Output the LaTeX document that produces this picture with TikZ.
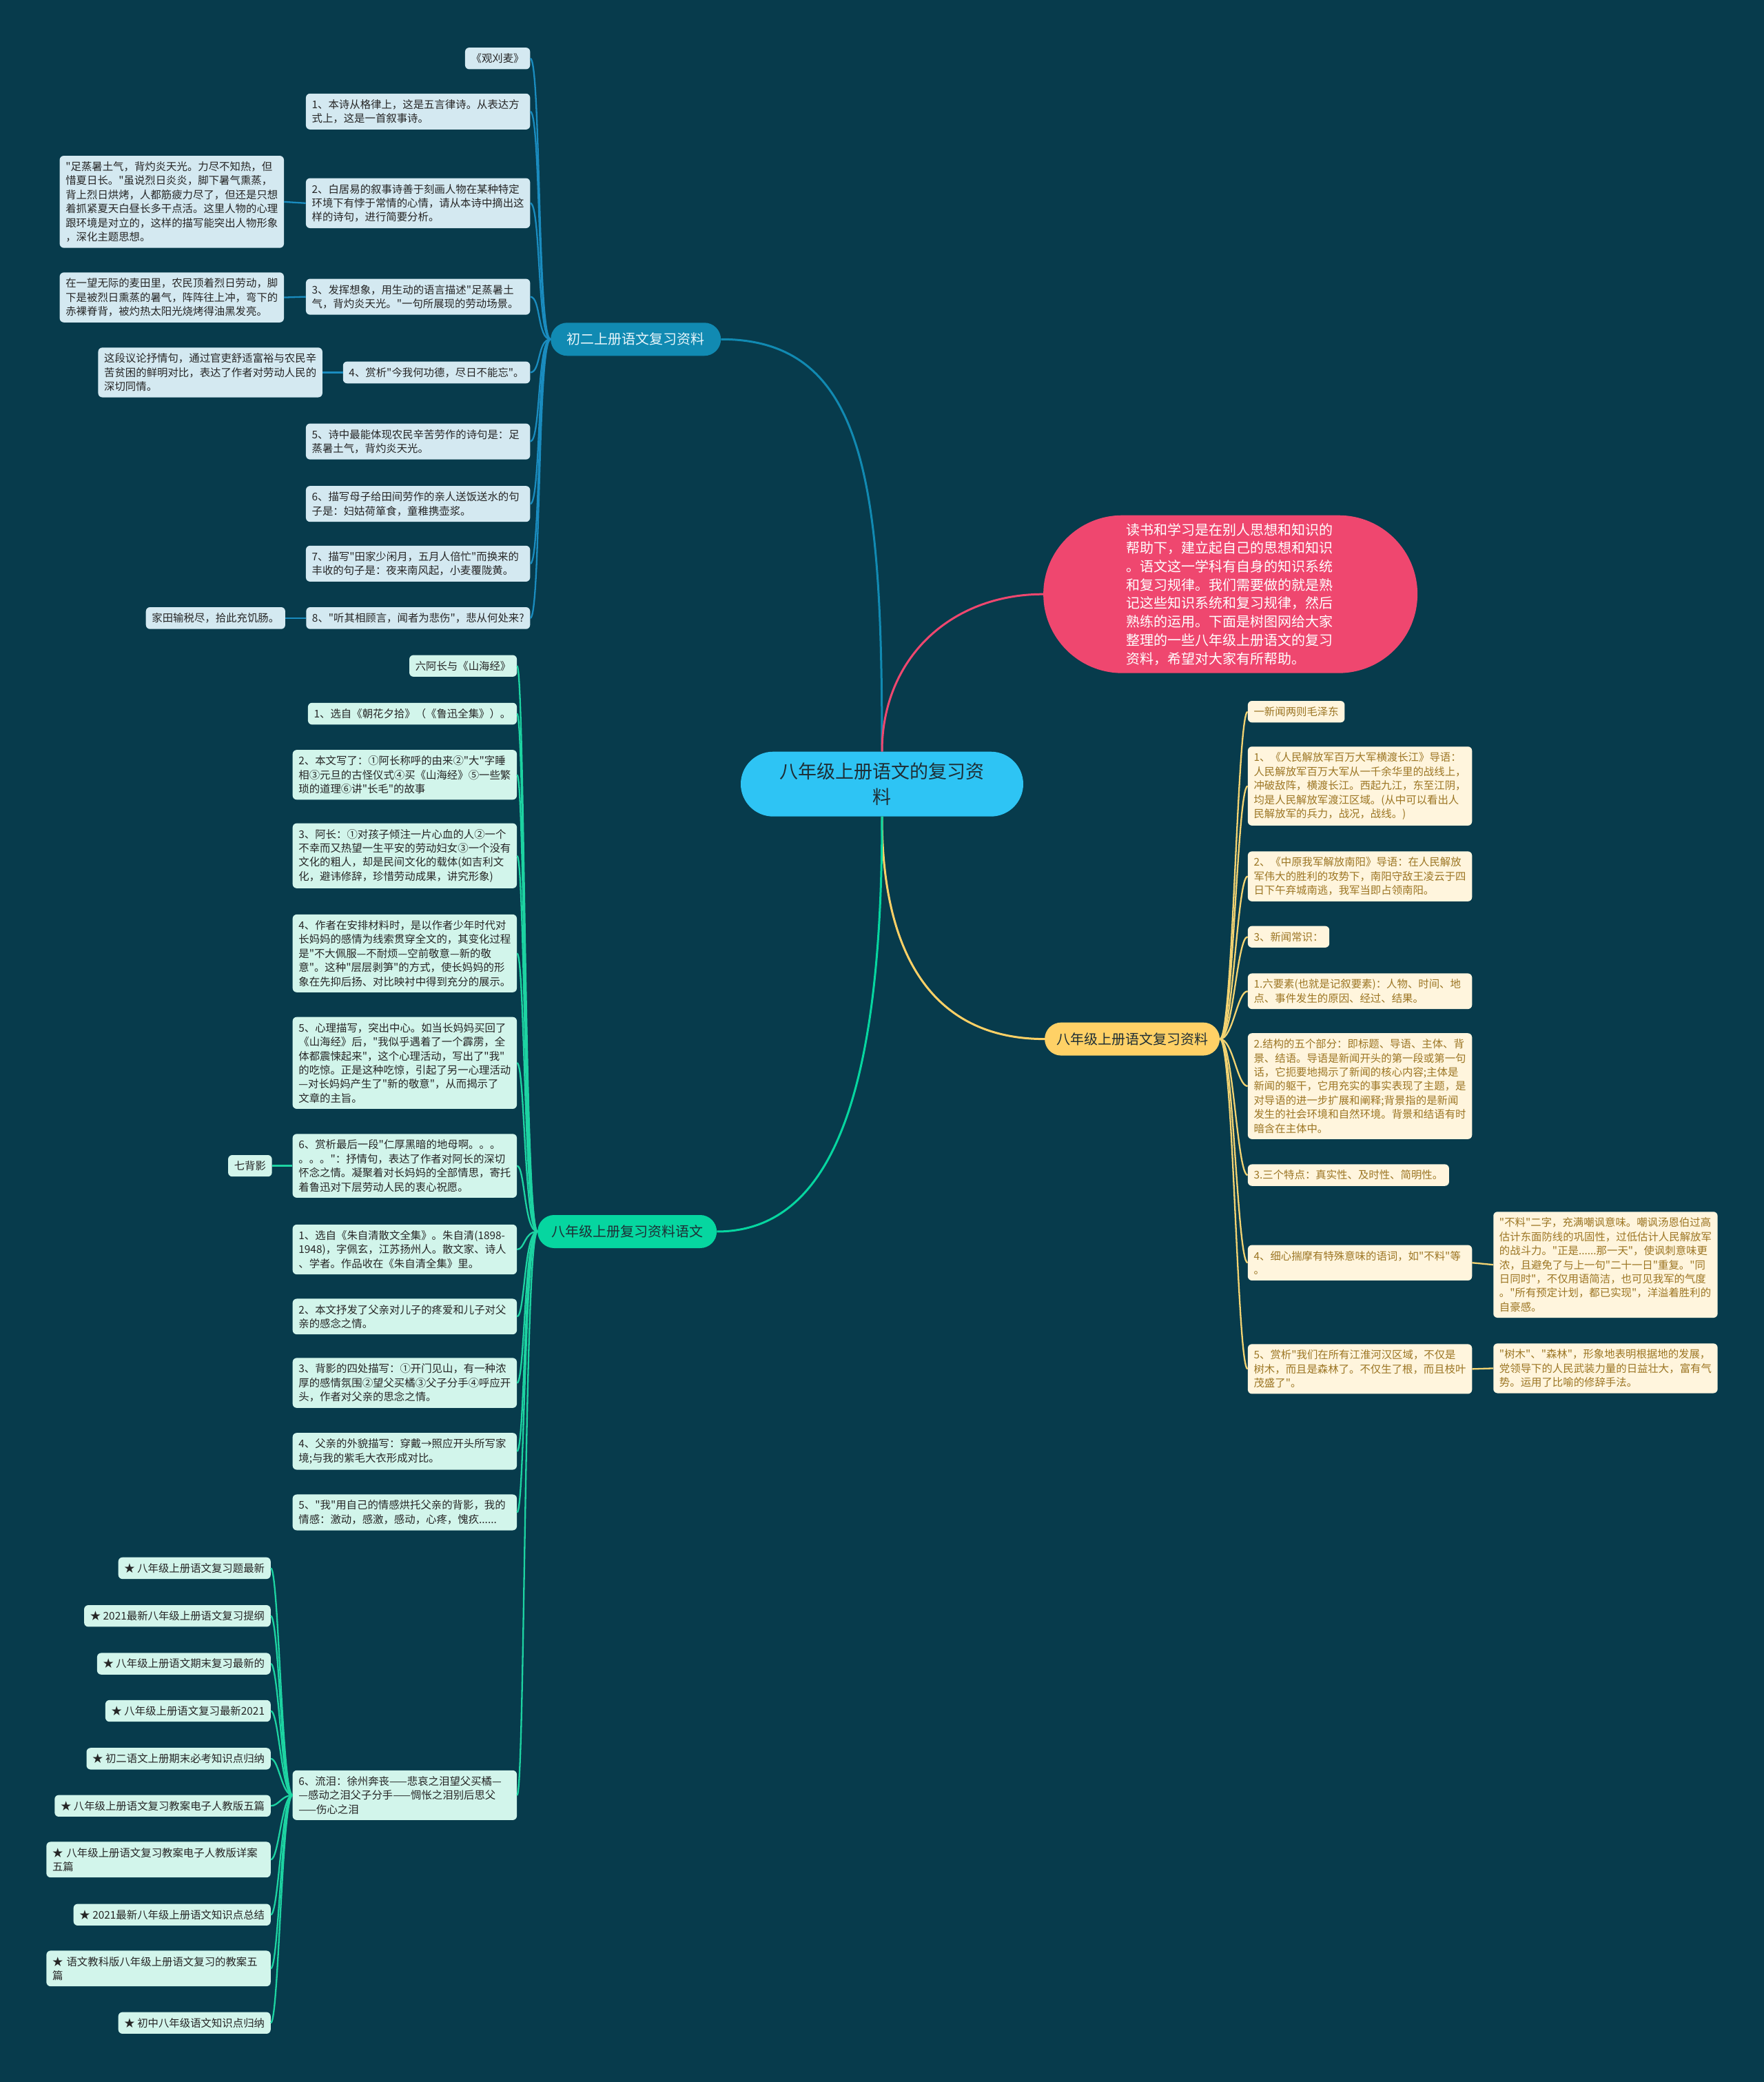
\documentclass[tikz,border=0pt]{standalone}
\usepackage{fontspec}
\newfontfamily\cjk{Noto Sans CJK SC}
\usetikzlibrary{shapes.misc}
\definecolor{bg}{HTML}{073B4C}
\definecolor{cblue}{HTML}{118AB2}
\definecolor{cpink}{HTML}{EF476F}
\definecolor{cyel}{HTML}{FFD166}
\definecolor{cgreen}{HTML}{06D6A0}
\definecolor{croot}{HTML}{2EC4F4}
\definecolor{fblue}{HTML}{D4E9F1}
\definecolor{fgreen}{HTML}{D2F5EB}
\definecolor{fyel}{HTML}{FFF5DD}
\definecolor{tdark}{HTML}{262626}
\definecolor{tgold}{HTML}{9C7624}
\definecolor{lyel}{HTML}{F2D372}
\definecolor{lgreen}{HTML}{1DD3A2}
\definecolor{lblue}{HTML}{1A8CBF}
\definecolor{roottext}{HTML}{1E2E35}
\definecolor{bltext}{HTML}{E8F6FB}
\begin{document}
\begin{tikzpicture}[x=1.92626pt,y=-1.92666pt,
  leaf/.style={rectangle,rounded corners=6pt,inner xsep=8.7pt,inner ysep=8.5pt,
    font=\cjk\fontsize{15.4}{20.4}\selectfont,align=left},
  bleaf/.style={leaf,fill=fblue,text=tdark},
  gleaf/.style={leaf,fill=fgreen,text=tdark},
  yleaf/.style={leaf,fill=fyel,text=tgold},
  wide/.style={text width=308pt},
  lbl/.style={rounded rectangle,minimum height=48pt,inner xsep=0pt,inner ysep=0pt,
    font=\cjk\fontsize{20}{24}\selectfont},
  cb/.style={draw=lblue,line width=2.3pt},
  cg/.style={draw=lgreen,line width=2.3pt},
  cy/.style={draw=lyel,line width=2.3pt},
  mainline/.style={line width=3pt}]
\fill[bg] (0,0) rectangle (1329,1568);
\useasboundingbox (0,0) rectangle (1329,1568);

% root and main branches
\node[rounded rectangle,fill=croot,text=roottext,minimum width=410pt,minimum height=94pt,
  align=center,font=\cjk\fontsize{27}{37}\selectfont,inner sep=0pt] (root) at (664.5,590.5)
  {八年级上册语文的复习资\\料};
\node[rounded rectangle,fill=cpink,text=white,minimum width=543pt,minimum height=229pt,
  text width=302pt,align=left,font=\cjk\fontsize{20}{26.7}\selectfont,inner sep=0pt] (pink) at (927,447.5)
  {读书和学习是在别人思想和知识的\\帮助下，建立起自己的思想和知识\\。语文这一学科有自身的知识系统\\和复习规律。我们需要做的就是熟\\记这些知识系统和复习规律，然后\\熟练的运用。下面是树图网给大家\\整理的一些八年级上册语文的复习\\资料，希望对大家有所帮助。};
\node[lbl,fill=cblue,text=bltext,minimum width=247pt] (bl) at (479,255.5) {初二上册语文复习资料};
\node[lbl,fill=cyel,text=roottext,minimum width=254pt] (yl) at (853,782.5) {八年级上册语文复习资料};
\node[lbl,fill=cgreen,text=roottext,minimum width=260pt] (gl) at (472.5,927.5) {八年级上册复习资料语文};

\draw[mainline,draw=cblue] (root.north) .. controls +(0,-200) and +(110,0) .. (bl.east);
\draw[mainline,draw=cpink] (root.north) .. controls +(0,-70) and +(-70,0) .. (pink.west);
\draw[mainline,draw=cyel] (root.south) .. controls +(0,110) and +(-80,0) .. (yl.west);
\draw[mainline,draw=cgreen] (root.south) .. controls +(0,200) and +(90,0) .. (gl.east);

% blue branch
\node[bleaf,anchor=east] (b1) at (399.5,44) {《观刈麦》};
\node[bleaf,wide,anchor=east] (b2) at (399.5,84) {1、本诗从格律上，这是五言律诗。从表达方\\式上，这是一首叙事诗。};
\node[bleaf,wide,anchor=east] (b3) at (399.5,153) {2、白居易的叙事诗善于刻画人物在某种特定\\环境下有悖于常情的心情，请从本诗中摘出这\\样的诗句，进行简要分析。};
\node[bleaf,wide,anchor=east] (b3a) at (214,152) {"足蒸暑土气，背灼炎天光。力尽不知热，但\\惜夏日长。"虽说烈日炎炎，脚下暑气熏蒸，\\背上烈日烘烤，人都筋疲力尽了，但还是只想\\着抓紧夏天白昼长多干点活。这里人物的心理\\跟环境是对立的，这样的描写能突出人物形象\\，深化主题思想。};
\node[bleaf,wide,anchor=east] (b4) at (399.5,223.5) {3、发挥想象，用生动的语言描述"足蒸暑土\\气，背灼炎天光。"一句所展现的劳动场景。};
\node[bleaf,wide,anchor=east] (b4a) at (214,224) {在一望无际的麦田里，农民顶着烈日劳动，脚\\下是被烈日熏蒸的暑气，阵阵往上冲，弯下的\\赤裸脊背，被灼热太阳光烧烤得油黑发亮。};
\node[bleaf,anchor=east] (b5) at (399.5,280.5) {4、赏析"今我何功德，尽日不能忘"。};
\node[bleaf,wide,anchor=east] (b5a) at (243,280.5) {这段议论抒情句，通过官吏舒适富裕与农民辛\\苦贫困的鲜明对比，表达了作者对劳动人民的\\深切同情。};
\node[bleaf,wide,anchor=east] (b6) at (399.5,332.5) {5、诗中最能体现农民辛苦劳作的诗句是：足\\蒸暑土气，背灼炎天光。};
\node[bleaf,wide,anchor=east] (b7) at (399.5,379.5) {6、描写母子给田间劳作的亲人送饭送水的句\\子是：妇姑荷箪食，童稚携壶浆。};
\node[bleaf,wide,anchor=east] (b8) at (399.5,424.5) {7、描写"田家少闲月，五月人倍忙"而换来的\\丰收的句子是：夜来南风起，小麦覆陇黄。};
\node[bleaf,anchor=east] (b9) at (399.5,465.5) {8、"听其相顾言，闻者为悲伤"，悲从何处来?};
\node[bleaf,anchor=east] (b9a) at (215,465.5) {家田输税尽，拾此充饥肠。};
\foreach \c in {b1,b2,b3,b4,b5,b6,b7,b8,b9}
  \draw[cb] (bl.west) .. controls +(-10,0) and +(8,0) .. (\c.east);
\draw[cb] (b3.west) -- (b3a.east);
\draw[cb] (b4.west) -- (b4a.east);
\draw[cb] (b5.west) -- (b5a.east);
\draw[cb] (b9.west) -- (b9a.east);

% yellow branch
\node[yleaf,anchor=west] (y1) at (940,536) {一新闻两则毛泽东};
\node[yleaf,wide,anchor=west] (y2) at (940,592) {1、《人民解放军百万大军横渡长江》导语：\\人民解放军百万大军从一千余华里的战线上，\\冲破敌阵，横渡长江。西起九江，东至江阴，\\均是人民解放军渡江区域。(从中可以看出人\\民解放军的兵力，战况，战线。)};
\node[yleaf,wide,anchor=west] (y3) at (940,660) {2、《中原我军解放南阳》导语：在人民解放\\军伟大的胜利的攻势下，南阳守敌王凌云于四\\日下午弃城南逃，我军当即占领南阳。};
\node[yleaf,anchor=west] (y4) at (940,705.5) {3、新闻常识：};
\node[yleaf,wide,anchor=west] (y5) at (940,746.5) {1.六要素(也就是记叙要素)：人物、时间、地\\点、事件发生的原因、经过、结果。};
\node[yleaf,wide,anchor=west] (y6) at (940,818) {2.结构的五个部分：即标题、导语、主体、背\\景、结语。导语是新闻开头的第一段或第一句\\话，它扼要地揭示了新闻的核心内容;主体是\\新闻的躯干，它用充实的事实表现了主题，是\\对导语的进一步扩展和阐释;背景指的是新闻\\发生的社会环境和自然环境。背景和结语有时\\暗含在主体中。};
\node[yleaf,anchor=west] (y7) at (940,885) {3.三个特点：真实性、及时性、简明性。};
\node[yleaf,wide,anchor=west] (y8) at (940,951) {4、细心揣摩有特殊意味的语词，如"不料"等\\。};
\node[yleaf,wide,anchor=west] (y8a) at (1125,952.5) {"不料"二字，充满嘲讽意味。嘲讽汤恩伯过高\\估计东面防线的巩固性，过低估计人民解放军\\的战斗力。"正是......那一天"，使讽刺意味更\\浓，且避免了与上一句"二十一日"重复。"同\\日同时"，不仅用语简洁，也可见我军的气度\\。"所有预定计划，都已实现"，洋溢着胜利的\\自豪感。};
\node[yleaf,wide,anchor=west] (y9) at (940,1031) {5、赏析"我们在所有江淮河汉区域，不仅是\\树木，而且是森林了。不仅生了根，而且枝叶\\茂盛了"。};
\node[yleaf,wide,anchor=west] (y9a) at (1125,1030.5) {"树木"、"森林"，形象地表明根据地的发展，\\党领导下的人民武装力量的日益壮大，富有气\\势。运用了比喻的修辞手法。};
\foreach \c in {y1,y2,y3,y4,y5,y6,y7,y8,y9}
  \draw[cy] (yl.east) .. controls +(10,0) and +(-8,0) .. (\c.west);
\draw[cy] (y8.east) -- (y8a.west);
\draw[cy] (y9.east) -- (y9a.west);

% green branch
\node[gleaf,anchor=east] (g1) at (389.5,501.5) {六阿长与《山海经》};
\node[gleaf,anchor=east] (g2) at (389.5,537.5) {1、选自《朝花夕拾》（《鲁迅全集》）。};
\node[gleaf,wide,anchor=east] (g3) at (389.5,583.5) {2、本文写了：①阿长称呼的由来②"大"字睡\\相③元旦的古怪仪式④买《山海经》⑤一些繁\\琐的道理⑥讲"长毛"的故事};
\node[gleaf,wide,anchor=east] (g4) at (389.5,644.5) {3、阿长：①对孩子倾注一片心血的人②一个\\不幸而又热望一生平安的劳动妇女③一个没有\\文化的粗人，却是民间文化的载体(如吉利文\\化，避讳修辞，珍惜劳动成果，讲究形象)};
\node[gleaf,wide,anchor=east] (g5) at (389.5,718) {4、作者在安排材料时，是以作者少年时代对\\长妈妈的感情为线索贯穿全文的，其变化过程\\是"不大佩服—不耐烦—空前敬意—新的敬\\意"。这种"层层剥笋"的方式，使长妈妈的形\\象在先抑后扬、对比映衬中得到充分的展示。};
\node[gleaf,wide,anchor=east] (g6) at (389.5,800.5) {5、心理描写，突出中心。如当长妈妈买回了\\《山海经》后，"我似乎遇着了一个霹雳，全\\体都震悚起来"，这个心理活动，写出了"我"\\的吃惊。正是这种吃惊，引起了另一心理活动\\—对长妈妈产生了"新的敬意"，从而揭示了\\文章的主旨。};
\node[gleaf,wide,anchor=east] (g7) at (389.5,878) {6、赏析最后一段"仁厚黑暗的地母啊。。。\\。。。"：抒情句，表达了作者对阿长的深切\\怀念之情。凝聚着对长妈妈的全部情思，寄托\\着鲁迅对下层劳动人民的衷心祝愿。};
\node[gleaf,anchor=east] (g7a) at (205,878) {七背影};
\node[gleaf,wide,anchor=east] (g8) at (389.5,941) {1、选自《朱自清散文全集》。朱自清(1898-\\1948)，字佩玄，江苏扬州人。散文家、诗人\\、学者。作品收在《朱自清全集》里。};
\node[gleaf,wide,anchor=east] (g9) at (389.5,991.5) {2、本文抒发了父亲对儿子的疼爱和儿子对父\\亲的感念之情。};
\node[gleaf,wide,anchor=east] (g10) at (389.5,1041.5) {3、背影的四处描写：①开门见山，有一种浓\\厚的感情氛围②望父买橘③父子分手④呼应开\\头，作者对父亲的思念之情。};
\node[gleaf,wide,anchor=east] (g11) at (389.5,1093) {4、父亲的外貌描写：穿戴→照应开头所写家\\境;与我的紫毛大衣形成对比。};
\node[gleaf,wide,anchor=east] (g12) at (389.5,1139) {5、"我"用自己的情感烘托父亲的背影，我的\\情感：激动，感激，感动，心疼，愧疚......};
\node[gleaf,wide,anchor=east] (g13) at (389.5,1352) {6、流泪：徐州奔丧——悲哀之泪望父买橘—\\—感动之泪父子分手——惆怅之泪别后思父\\——伤心之泪};
\foreach \c in {g1,g2,g3,g4,g5,g6,g7,g8,g9,g10,g11,g12,g13}
  \draw[cg] (gl.west) .. controls +(-10,0) and +(6,0) .. (\c.east);
\draw[cg] (g7.west) -- (g7a.east);

\node[gleaf,anchor=east] (s1) at (204,1181) {★~八年级上册语文复习题最新};
\node[gleaf,anchor=east] (s2) at (204,1217) {★~2021最新八年级上册语文复习提纲};
\node[gleaf,anchor=east] (s3) at (204,1253) {★~八年级上册语文期末复习最新的};
\node[gleaf,anchor=east] (s4) at (204,1288.5) {★~八年级上册语文复习最新2021};
\node[gleaf,anchor=east] (s5) at (204,1324.5) {★~初二语文上册期末必考知识点归纳};
\node[gleaf,anchor=east] (s6) at (204,1360) {★~八年级上册语文复习教案电子人教版五篇};
\node[gleaf,wide,anchor=east] (s7) at (204,1400.5) {★~八年级上册语文复习教案电子人教版详案\\五篇};
\node[gleaf,anchor=east] (s8) at (204,1442) {★~2021最新八年级上册语文知识点总结};
\node[gleaf,wide,anchor=east] (s9) at (204,1482.5) {★~语文教科版八年级上册语文复习的教案五\\篇};
\node[gleaf,anchor=east] (s10) at (204,1523.5) {★~初中八年级语文知识点归纳};
\foreach \c in {s1,s2,s3,s4,s5,s6,s7,s8,s9,s10}
  \draw[cg] (g13.west) .. controls +(-8,0) and +(6,0) .. (\c.east);
\end{tikzpicture}
\end{document}
